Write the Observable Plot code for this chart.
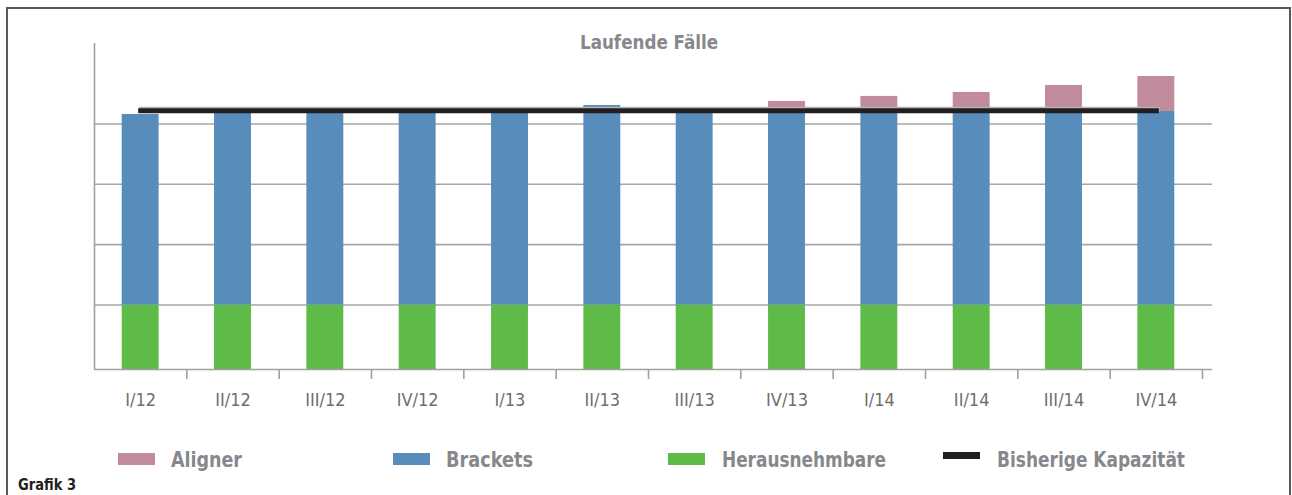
<!DOCTYPE html>
<html><head><meta charset="utf-8">
<script src="https://cdn.jsdelivr.net/npm/d3@7"></script>
<script src="https://cdn.jsdelivr.net/npm/@observablehq/plot@0.6"></script>
<style>
html,body{margin:0;padding:0;background:#fff;}
#wrap{position:relative;width:1292px;height:495px;overflow:hidden;}
#border{position:absolute;left:6px;top:7px;width:1285px;height:600px;border:2px solid #575757;box-sizing:border-box;}
#chart{position:absolute;left:0;top:0;}
#overlay{position:absolute;left:0;top:0;pointer-events:none;}
</style>
</head><body>
<div id="wrap"><div id="border"></div><div id="chart"></div><svg id="overlay" width="1292" height="495"></svg></div>
<script>
// ---- data ----
const quarters = ["I/12","II/12","III/12","IV/12","I/13","II/13","III/13","IV/13","I/14","II/14","III/14","IV/14"];
const herausnehmbare = [1000,1000,1000,1000,1000,1000,1000,1000,1000,1000,1000,1000];
const brackets = [3157,3207,3207,3207,3207,3306,3207,3207,3207,3207,3207,3207];
const aligner = [0,0,0,0,0,0,0,166,249,315,431,580];
const kapazitaet = [4220,4220,4220,4220,4220,4220,4220,4220,4220,4220,4220,4220];
const gridValues = [1000,2000,3000,4000];
const seriesNames = ["Aligner","Brackets","Herausnehmbare","Bisherige Kapazität"];
const title = "Laufende Fälle";
const caption = "Grafik 3";

const colors = {Aligner:"#c18b9b", Brackets:"#588cbb", Herausnehmbare:"#5fbb47", "Bisherige Kapazität":"#231f20"};
const FONT = '"Liberation Sans Narrow","DejaVu Sans Condensed","Roboto",sans-serif';

const yBase = -69, yTop = 5333;
const pxPerUnit = (369 - 43) / (yTop - yBase);
const tickLen = 10 / pxPerUnit;
const step = (1202 - 94) / quarters.length;

const rows = quarters.map((q, i) => ({
  q,
  g0: yBase,
  g1: herausnehmbare[i],
  b1: herausnehmbare[i] + brackets[i],
  a1: herausnehmbare[i] + brackets[i] + aligner[i],
  k: kapazitaet[i]
}));

const chart = Plot.plot({
  width: 1292, height: 495,
  marginTop: 43, marginBottom: 126, marginLeft: 94, marginRight: 80,
  x: {domain: quarters, range: [94, 1202], paddingInner: 0.6, paddingOuter: 0.3, round: false, label: null},
  y: {domain: [yBase, yTop], axis: null},
  style: {fontFamily: FONT, fontSize: "18px", color: "#6e6e6e", background: "transparent", overflow: "visible"},
  marks: [
    Plot.ruleY(gridValues, {stroke: "#a6a6a6", strokeWidth: 1.6}),
    Plot.barY(rows, {x: "q", y1: "g0", y2: "g1", fill: colors.Herausnehmbare}),
    Plot.barY(rows, {x: "q", y1: "g1", y2: "b1", fill: colors.Brackets}),
    Plot.barY(rows.filter(d => d.a1 > d.b1), {x: "q", y1: "b1", y2: "a1", fill: colors.Aligner}),
    Plot.ruleY([yBase], {stroke: "#a0a0a0", strokeWidth: 1.6}),
    Plot.ruleX([quarters[0]], {dx: -step / 2, y1: yBase, y2: yTop, stroke: "#a0a0a0", strokeWidth: 1.6}),
    Plot.ruleX(quarters, {dx: step / 2, y1: yBase, y2: yBase - tickLen, stroke: "#a0a0a0", strokeWidth: 1.6}),
    Plot.lineY(rows, {x: "q", y: "k", stroke: "#b4b4b4", strokeWidth: 5, dy: -1.5, dx: 1, strokeLinecap: "square"}),
    Plot.lineY(rows, {x: "q", y: "k", stroke: colors["Bisherige Kapazität"], strokeWidth: 5, strokeLinecap: "square"}),
    Plot.axisX({tickSize: 0, tickPadding: 24, fontSize: 18, fill: "#6e6e6e"})
  ]
});
document.getElementById("chart").appendChild(chart);

// ---- title, legend, caption ----
const ov = d3.select("#overlay");
ov.append("text").text(title)
  .attr("x", 580).attr("y", 48.5).attr("textLength", 138).attr("lengthAdjust", "spacingAndGlyphs")
  .attr("font-family", FONT).attr("font-weight", "bold").attr("font-size", 20).attr("fill", "#87888b");

const legendSwatchX = [118, 393, 668, 943];
const legendTextX = [171, 446, 722, 997];
const legendTextW = [71, 87, 164, 188];
seriesNames.forEach((name, i) => {
  const isLine = name === "Bisherige Kapazität";
  ov.append("rect").attr("x", legendSwatchX[i]).attr("y", isLine ? 452 : 453)
    .attr("width", 37).attr("height", isLine ? 7 : 12).attr("fill", colors[name]);
  ov.append("text").text(name)
    .attr("x", legendTextX[i]).attr("y", 466.5)
    .attr("textLength", legendTextW[i]).attr("lengthAdjust", "spacingAndGlyphs")
    .attr("font-family", FONT).attr("font-weight", "bold").attr("font-size", 22).attr("fill", "#87888c");
});
ov.append("text").text(caption)
  .attr("x", 18).attr("y", 490).attr("textLength", 58).attr("lengthAdjust", "spacingAndGlyphs")
  .attr("font-family", FONT).attr("font-weight", "bold").attr("font-size", 16).attr("fill", "#231f20");
</script>
</body></html>
